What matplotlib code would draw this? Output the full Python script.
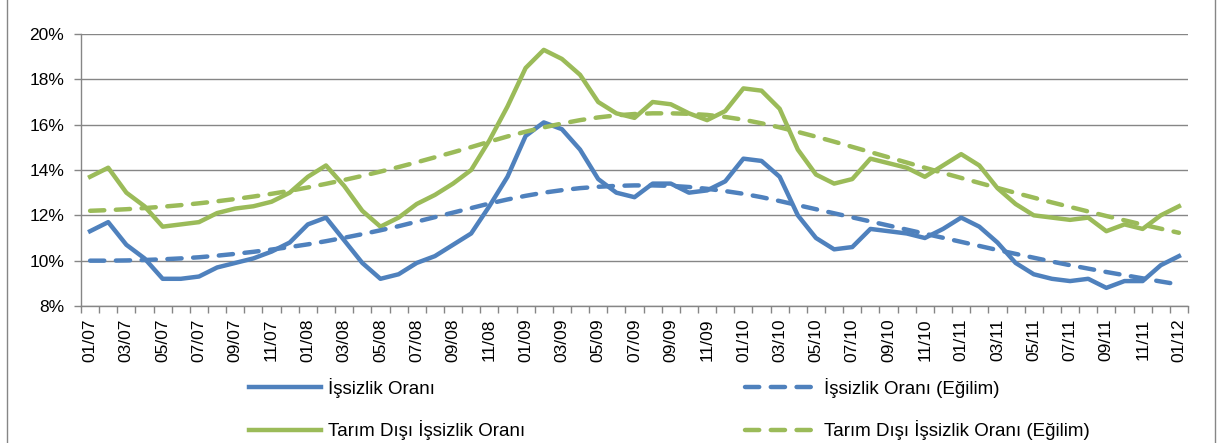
import matplotlib
matplotlib.use("Agg")
import matplotlib.pyplot as plt
from matplotlib.lines import Line2D
from matplotlib.ticker import FuncFormatter, FixedLocator

plt.rcParams['font.family'] = ['Liberation Sans', 'DejaVu Sans']

# months 01/07 .. 01/12
months = []
for yr in range(7, 13):
    for m in range(1, 13):
        months.append(f"{m:02d}/{yr:02d}")
months = months[:61]

issizlik = [11.3, 11.7, 10.7, 10.1, 9.2, 9.2, 9.3, 9.7, 9.9, 10.1,
            10.4, 10.8, 11.6, 11.9, 10.9, 9.9, 9.2, 9.4, 9.9, 10.2,
            10.7, 11.2, 12.4, 13.7, 15.5, 16.1, 15.8, 14.9, 13.6, 13.0,
            12.8, 13.4, 13.4, 13.0, 13.1, 13.5, 14.5, 14.4, 13.7, 12.0,
            11.0, 10.5, 10.6, 11.4, 11.3, 11.2, 11.0, 11.4, 11.9, 11.5,
            10.8, 9.9, 9.4, 9.2, 9.1, 9.2, 8.8, 9.1, 9.1, 9.8,
            10.2]

tarim_disi = [13.7, 14.1, 13.0, 12.4, 11.5, 11.6, 11.7, 12.1, 12.3, 12.4,
              12.6, 13.0, 13.7, 14.2, 13.3, 12.2, 11.5, 11.9, 12.5, 12.9,
              13.4, 14.0, 15.3, 16.8, 18.5, 19.3, 18.9, 18.2, 17.0, 16.5,
              16.3, 17.0, 16.9, 16.5, 16.2, 16.6, 17.6, 17.5, 16.7, 14.9,
              13.8, 13.4, 13.6, 14.5, 14.3, 14.1, 13.7, 14.2, 14.7, 14.2,
              13.2, 12.5, 12.0, 11.9, 11.8, 11.9, 11.3, 11.6, 11.4, 12.0,
              12.4]

issizlik_trend = [10.00, 10.00, 10.01, 10.03, 10.06, 10.10, 10.15, 10.22, 10.30, 10.39,
                  10.49, 10.60, 10.72, 10.86, 11.01, 11.17, 11.34, 11.52, 11.72, 11.92,
                  12.12, 12.32, 12.52, 12.70, 12.86, 13.00, 13.11, 13.20, 13.26, 13.30,
                  13.32, 13.32, 13.30, 13.25, 13.17, 13.07, 12.95, 12.80, 12.63, 12.45,
                  12.27, 12.09, 11.91, 11.73, 11.55, 11.37, 11.19, 11.01, 10.83, 10.65,
                  10.47, 10.30, 10.13, 9.96, 9.80, 9.65, 9.50, 9.36, 9.22, 9.08,
                  8.95]

tarim_disi_trend = [12.20, 12.23, 12.27, 12.32, 12.38, 12.45, 12.53, 12.62, 12.72, 12.83,
                    12.95, 13.08, 13.23, 13.39, 13.56, 13.74, 13.93, 14.13, 14.34, 14.56,
                    14.78, 15.01, 15.25, 15.48, 15.69, 15.88, 16.05, 16.20, 16.32, 16.41,
                    16.47, 16.50, 16.50, 16.48, 16.43, 16.34, 16.22, 16.06, 15.88, 15.68,
                    15.47, 15.25, 15.02, 14.79, 14.56, 14.33, 14.10, 13.87, 13.65, 13.43,
                    13.21, 12.99, 12.78, 12.57, 12.37, 12.17, 11.97, 11.78, 11.59, 11.41,
                    11.23]

BLUE = '#4f81bd'
GREEN = '#9bbb59'
GRAY = '#868686'

fig = plt.figure(figsize=(12.18, 4.43), dpi=100)
ax = fig.add_axes([81 / 1218, 1 - 306 / 443, 1107 / 1218, 272 / 443])

x = list(range(len(months)))
l1, = ax.plot(x, issizlik, color=BLUE, lw=3.2, solid_joinstyle='round', label='İşsizlik Oranı', zorder=3)
l2, = ax.plot(x, tarim_disi, color=GREEN, lw=3.2, solid_joinstyle='round', label='Tarım Dışı İşsizlik Oranı', zorder=3)
l3, = ax.plot(x, issizlik_trend, color=BLUE, lw=3.2, dashes=(3.2, 2.6), dash_capstyle='round',
              label='İşsizlik Oranı (Eğilim)', zorder=4)
l4, = ax.plot(x, tarim_disi_trend, color=GREEN, lw=3.2, dashes=(3.2, 2.6), dash_capstyle='round',
              label='Tarım Dışı İşsizlik Oranı (Eğilim)', zorder=4)

ax.set_xlim(-0.5, len(months) - 0.5)
ax.set_ylim(8, 20)
ax.set_yticks(range(8, 21, 2))
ax.yaxis.set_major_formatter(FuncFormatter(lambda v, p: f"{int(v)}%"))
ax.grid(axis='y', color=GRAY, lw=1)
ax.set_axisbelow(True)

ax.set_xticks(x[::2])
ax.set_xticklabels(months[::2], rotation=90)
ax.xaxis.set_minor_locator(FixedLocator([i - 0.5 for i in range(len(months) + 1)]))
ax.tick_params(axis='x', which='major', length=0, pad=9, labelsize=12.5)
ax.tick_params(axis='x', which='minor', length=5, color=GRAY, width=1)
ax.tick_params(axis='y', length=5, color=GRAY, width=1, labelsize=12.5, pad=7)

for s in ['top', 'right']:
    ax.spines[s].set_visible(False)
for s in ['left', 'bottom']:
    ax.spines[s].set_color(GRAY)
    ax.spines[s].set_linewidth(1)

fig.legend(handles=[l1, l2, l3, l4], ncol=2, loc='upper left',
           bbox_to_anchor=(232 / 1218, 1 - 361 / 443), frameon=False,
           fontsize=13.5, handlelength=3.85, handletextpad=0.37,
           columnspacing=11.7, labelspacing=1.2)

# outer chart border
fig.add_artist(Line2D([7 / 1218, 7 / 1218], [0, 1], color=GRAY, lw=1))
fig.add_artist(Line2D([1215 / 1218, 1215 / 1218], [0, 1], color=GRAY, lw=1))

fig.savefig("out.png", dpi=100)
